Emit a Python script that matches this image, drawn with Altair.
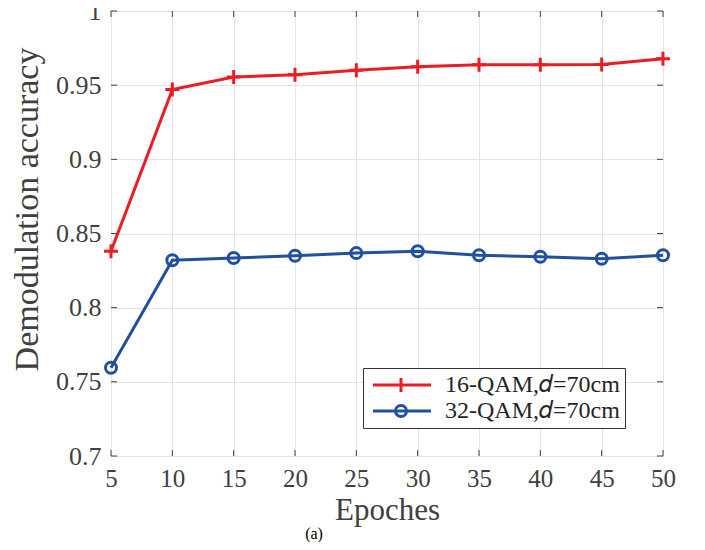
import altair as alt
import pandas as pd

epochs = [5, 10, 15, 20, 25, 30, 35, 40, 45, 50]
acc_16qam = [0.838, 0.947, 0.9555, 0.957, 0.960, 0.9624, 0.9637, 0.9637, 0.964, 0.9678]
acc_32qam = [0.7595, 0.832, 0.8335, 0.835, 0.8368, 0.838, 0.8353, 0.8343, 0.833, 0.8353]
series_names = ["16-QAM,\U0001D451=70cm", "32-QAM,\U0001D451=70cm"]
x_ticks = [5, 10, 15, 20, 25, 30, 35, 40, 45, 50]
y_ticks = [0.7, 0.75, 0.8, 0.85, 0.9, 0.95, 1.0]

RED = "#ED1C24"
BLUE = "#2150A0"
FONT = "Liberation Serif"

df = pd.DataFrame({
    "epoch": epochs * 2,
    "acc": acc_16qam + acc_32qam,
    "series": [series_names[0]] * len(epochs) + [series_names[1]] * len(epochs),
})
xt = pd.DataFrame({"t": x_ticks})
yt = pd.DataFrame({"t": y_ticks})

xscale = alt.Scale(domain=[5, 50], nice=False, zero=False)
yscale = alt.Scale(domain=[0.7, 1.0], nice=False, zero=False)
color_scale = alt.Scale(domain=series_names, range=[RED, BLUE])

PLUS = "M-1,0L1,0M0,-1L0,1"
LEG_RED = "M-1,0L7.29,0M3,-1L3,1"
LEG_BLUE = "M-1,0L7.29,0M2.21,0A0.79,0.79,0,1,1,3.79,0A0.79,0.79,0,1,1,2.21,0"

x_enc = alt.X("epoch:Q", scale=xscale, axis=alt.Axis(
    values=x_ticks, title="Epoches", grid=True, domain=False, ticks=False,
    labelPadding=10, labelFontSize=25, labelFont=FONT, labelColor="#404040",
    titleFont=FONT, titleFontSize=31, titleFontWeight="normal", titleColor="#404040",
    titleBaseline="alphabetic", titleY=63, gridColor="#e3e3e3", labelFlush=False))
y_enc = alt.Y("acc:Q", scale=yscale, axis=alt.Axis(
    values=y_ticks, title="Demodulation accuracy", grid=True, domain=False, ticks=False,
    labelPadding=10, labelFontSize=26, labelFont=FONT, labelColor="#404040",
    titleFont=FONT, titleFontSize=34, titleFontWeight="normal", titleColor="#404040",
    titleBaseline="alphabetic", titleX=-74, titleY=198, titleAngle=270,
    gridColor="#e3e3e3", labelFlush=False,
    labelExpr="datum.value == 1 ? '1' : format(datum.value, '.2~f')"))

base = alt.Chart(df)

line16 = base.transform_filter(alt.datum.series == series_names[0]).mark_line(
    strokeWidth=3, color=RED).encode(x=x_enc, y=y_enc)
line32 = base.transform_filter(alt.datum.series == series_names[1]).mark_line(
    strokeWidth=3, color=BLUE).encode(x="epoch:Q", y="acc:Q")

pts16 = base.transform_filter(alt.datum.series == series_names[0]).mark_point(
    shape=PLUS, size=196, strokeWidth=3, filled=False, opacity=1, color=RED
).encode(x="epoch:Q", y="acc:Q")

pts32 = base.transform_filter(alt.datum.series == series_names[1]).mark_point(
    shape="circle", size=121, strokeWidth=3, filled=False, opacity=1, color=BLUE
).encode(x="epoch:Q", y="acc:Q")

legend_layer = base.mark_point(filled=False, opacity=0, strokeWidth=3).encode(
    x="epoch:Q", y="acc:Q",
    color=alt.Color("series:N", scale=color_scale, legend=alt.Legend(
        title=None, orient="none", legendX=252, legendY=357,
        symbolSize=196, symbolStrokeWidth=3, symbolOpacity=1,
        labelFont=FONT, labelFontSize=24, labelColor="#262626", labelOffset=53,
        labelLimit=400, rowPadding=1,
        strokeColor="#333333", fillColor="white", padding=5, offset=0)),
    shape=alt.Shape("series:N", scale=alt.Scale(domain=series_names, range=[LEG_RED, LEG_BLUE])),
)

tick_color = "#404040"
xt_bottom = alt.Chart(xt).mark_rule(color=tick_color, strokeWidth=1).encode(
    x=alt.X("t:Q", scale=xscale), y=alt.datum(0.7), y2=alt.datum(0.704))
xt_top = alt.Chart(xt).mark_rule(color=tick_color, strokeWidth=1).encode(
    x=alt.X("t:Q", scale=xscale), y=alt.datum(1.0), y2=alt.datum(0.996))
yt_left = alt.Chart(yt).mark_rule(color=tick_color, strokeWidth=1).encode(
    y=alt.Y("t:Q", scale=yscale), x=alt.datum(5), x2=alt.datum(5.49))
yt_right = alt.Chart(yt).mark_rule(color=tick_color, strokeWidth=1).encode(
    y=alt.Y("t:Q", scale=yscale), x=alt.datum(50), x2=alt.datum(49.51))

chart = alt.layer(
    line16, line32, xt_bottom, xt_top, yt_left, yt_right, pts16, pts32, legend_layer
).properties(
    width=552, height=445,
    autosize=alt.AutoSizeParams(type="none"),
    padding={"left": 103, "top": 3, "right": 30, "bottom": 86},
    title=alt.Title("(a)", orient="bottom", anchor="middle", dx=-73, offset=1,
                    font=FONT, fontSize=16, fontWeight="normal", color="#000000",
                    baseline="top"),
).configure_view(
    stroke="#858585", strokeWidth=1.5
).configure(background="white")

chart.save("out.html", embed_options={"renderer": "svg", "actions": False})
